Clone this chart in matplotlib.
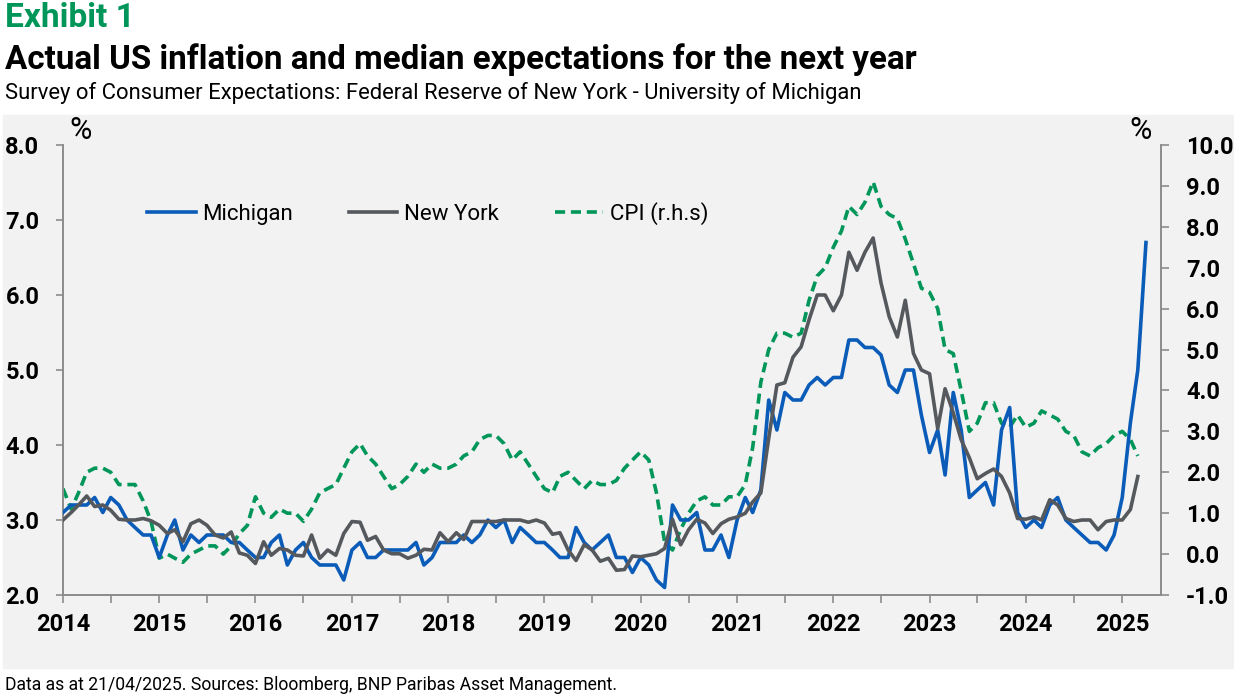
import numpy as np
import pandas as pd
import matplotlib
matplotlib.use("Agg")
import matplotlib.pyplot as plt
import matplotlib.dates as mdates
from matplotlib.patches import Rectangle
from matplotlib.lines import Line2D

# monthly data, Jan 2014 onwards
michigan = [
    3.1, 3.2, 3.2, 3.2, 3.3, 3.1, 3.3, 3.2, 3.0, 2.9, 2.8, 2.8,   # 2014
    2.5, 2.8, 3.0, 2.6, 2.8, 2.7, 2.8, 2.8, 2.8, 2.7, 2.7, 2.6,   # 2015
    2.5, 2.5, 2.7, 2.8, 2.4, 2.6, 2.7, 2.5, 2.4, 2.4, 2.4, 2.2,   # 2016
    2.6, 2.7, 2.5, 2.5, 2.6, 2.6, 2.6, 2.6, 2.7, 2.4, 2.5, 2.7,   # 2017
    2.7, 2.7, 2.8, 2.7, 2.8, 3.0, 2.9, 3.0, 2.7, 2.9, 2.8, 2.7,   # 2018
    2.7, 2.6, 2.5, 2.5, 2.9, 2.7, 2.6, 2.7, 2.8, 2.5, 2.5, 2.3,   # 2019
    2.5, 2.4, 2.2, 2.1, 3.2, 3.0, 3.0, 3.1, 2.6, 2.6, 2.8, 2.5,   # 2020
    3.0, 3.3, 3.1, 3.4, 4.6, 4.2, 4.7, 4.6, 4.6, 4.8, 4.9, 4.8,   # 2021
    4.9, 4.9, 5.4, 5.4, 5.3, 5.3, 5.2, 4.8, 4.7, 5.0, 5.0, 4.4,   # 2022
    3.9, 4.2, 3.6, 4.7, 4.2, 3.3, 3.4, 3.5, 3.2, 4.2, 4.5, 3.1,   # 2023
    2.9, 3.0, 2.9, 3.2, 3.3, 3.0, 2.9, 2.8, 2.7, 2.7, 2.6, 2.8,   # 2024
    3.3, 4.3, 5.0, 6.7,                                           # 2025
]

new_york = [
    3.0, 3.1, 3.2, 3.32, 3.18, 3.2, 3.13, 3.01, 3.0, 3.0, 3.02, 2.99,
    2.93, 2.82, 2.87, 2.71, 2.95, 3.0, 2.93, 2.8, 2.76, 2.84, 2.56, 2.53,
    2.42, 2.71, 2.53, 2.62, 2.6, 2.53, 2.52, 2.8, 2.49, 2.6, 2.53, 2.82,
    2.98, 2.97, 2.73, 2.78, 2.6, 2.55, 2.55, 2.49, 2.53, 2.61, 2.6, 2.83,
    2.71, 2.83, 2.74, 2.98, 2.98, 2.98, 2.98, 3.0, 3.0, 3.0, 2.97, 3.0,
    2.96, 2.81, 2.83, 2.6, 2.46, 2.67, 2.6, 2.45, 2.49, 2.33, 2.34, 2.52,
    2.51, 2.53, 2.55, 2.62, 3.01, 2.67, 2.87, 3.01, 2.96, 2.82, 2.95, 3.01,
    3.04, 3.09, 3.24, 3.36, 4.09, 4.8, 4.83, 5.17, 5.31, 5.67, 6.0, 6.0,
    5.79, 6.0, 6.57, 6.33, 6.57, 6.76, 6.16, 5.71, 5.44, 5.93, 5.22, 5.0,
    4.95, 4.22, 4.75, 4.43, 4.07, 3.83, 3.55, 3.62, 3.68, 3.58, 3.36, 3.02,
    3.01, 3.04, 3.0, 3.27, 3.2, 3.02, 2.98, 3.0, 3.0, 2.87, 2.98, 3.0,
    3.0, 3.14, 3.58,
]

cpi = [
    1.6, 1.1, 1.5, 2.0, 2.1, 2.1, 2.0, 1.7, 1.7, 1.7, 1.3, 0.8,
    -0.1, 0.0, -0.1, -0.2, 0.0, 0.1, 0.2, 0.2, 0.0, 0.2, 0.5, 0.7,
    1.4, 1.0, 0.9, 1.1, 1.0, 1.0, 0.8, 1.1, 1.5, 1.6, 1.7, 2.1,
    2.5, 2.7, 2.4, 2.2, 1.9, 1.6, 1.7, 1.9, 2.2, 2.0, 2.2, 2.1,
    2.1, 2.2, 2.4, 2.5, 2.8, 2.9, 2.9, 2.7, 2.3, 2.5, 2.2, 1.9,
    1.6, 1.5, 1.9, 2.0, 1.8, 1.6, 1.8, 1.7, 1.7, 1.8, 2.1, 2.3,
    2.5, 2.3, 1.5, 0.3, 0.1, 0.6, 1.0, 1.3, 1.4, 1.2, 1.2, 1.4,
    1.4, 1.7, 2.6, 4.2, 5.0, 5.4, 5.4, 5.3, 5.4, 6.2, 6.8, 7.0,
    7.5, 7.9, 8.5, 8.3, 8.6, 9.1, 8.5, 8.3, 8.2, 7.7, 7.1, 6.5,
    6.4, 6.0, 5.0, 4.9, 4.0, 3.0, 3.2, 3.7, 3.7, 3.2, 3.1, 3.4,
    3.1, 3.2, 3.5, 3.4, 3.3, 3.0, 2.9, 2.5, 2.4, 2.6, 2.7, 2.9,
    3.0, 2.8, 2.4,
]

start = "2014-01-01"
left_ticks = [2, 3, 4, 5, 6, 7, 8]
right_ticks = [-1, 0, 1, 2, 3, 4, 5, 6, 7, 8, 9, 10]

BLUE = "#0a5cb8"
GREY = "#55585c"
GREEN = "#00965a"
PANEL = "#f2f2f2"
AXIS = "#8c8c8c"

plt.rcParams["font.family"] = ["Roboto", "DejaVu Sans"]

fig = plt.figure(figsize=(12.34, 6.97), dpi=100)
fig.patches.append(Rectangle((3 / 1234, 1 - 668 / 697), 1, (668 - 115) / 697,
                             transform=fig.transFigure, color=PANEL, zorder=-10))

ax = fig.add_axes([63 / 1234, 1 - 595 / 697, (1161 - 63) / 1234, 450 / 697])
ax.patch.set_alpha(0)
ax2 = ax.twinx()

d_mi = pd.date_range(start, periods=len(michigan), freq="MS")
d_ny = pd.date_range(start, periods=len(new_york), freq="MS")
d_cpi = pd.date_range(start, periods=len(cpi), freq="MS")

l_cpi, = ax2.plot(d_cpi, cpi, color=GREEN, lw=2.6, dashes=(2.8, 1.6))
l_mi, = ax.plot(d_mi, michigan, color=BLUE, lw=2.6, zorder=3)
l_ny, = ax.plot(d_ny, new_york, color=GREY, lw=2.6, zorder=4)
ax.set_zorder(ax2.get_zorder() + 1)

ax.set_xlim(pd.Timestamp("2014-01-01"), pd.Timestamp("2025-05-28"))
ax.set_ylim(2, 8)
ax2.set_ylim(-1, 10)
ax.set_yticks(left_ticks)
ax2.set_yticks(right_ticks)
ax.yaxis.set_major_formatter(matplotlib.ticker.FormatStrFormatter("%.1f"))
ax2.yaxis.set_major_formatter(matplotlib.ticker.FormatStrFormatter("%.1f"))

ax.xaxis.set_major_locator(mdates.YearLocator())
ax.xaxis.set_minor_locator(mdates.MonthLocator(bymonth=7))
ax.xaxis.set_major_formatter(mdates.DateFormatter("%Y"))

for a in (ax, ax2):
    for s in a.spines.values():
        s.set_color(AXIS)
        s.set_linewidth(1.2)
    a.spines["top"].set_visible(False)

ax.tick_params(axis="y", length=5, width=1.2, color=AXIS, pad=12,
               labelsize=17)
ax2.tick_params(axis="y", length=6, width=1.2, color=AXIS, pad=12,
                labelsize=17)
ax.tick_params(axis="x", which="both", length=6, width=1.2, color=AXIS,
               pad=7, labelsize=17)
for lab in ax.get_xticklabels() + ax.get_yticklabels() + ax2.get_yticklabels():
    lab.set_fontweight("bold")

ax.text(0.006, 1.0, "%", transform=ax.transAxes, fontsize=22, va="bottom")
ax.text(0.992, 1.0, "%", transform=ax.transAxes, fontsize=22, va="bottom",
        ha="right")

cpi_handle = Line2D([], [], color=GREEN, lw=2.6, dashes=(2.8, 1.6))
ax.legend([l_mi, l_ny, cpi_handle], ["Michigan", "New York", "CPI (r.h.s)"],
          ncol=3, frameon=False, loc="upper left",
          bbox_to_anchor=(0.058, 0.918), fontsize=16, handlelength=2.2,
          handletextpad=0.3, columnspacing=2.5)

head = fig.text(5 / 1234, 1 - 18 / 697, "Exhibit 1", color=GREEN, fontsize=22,
                fontweight="bold", va="center")
title = fig.text(5 / 1234, 1 - 60 / 697,
                 "Actual US inflation and median expectations for the next year",
                 fontsize=24, fontweight="bold", va="center")
sub = fig.text(5 / 1234, 1 - 93 / 697,
               "Survey of Consumer Expectations: Federal Reserve of New York - University of Michigan",
               fontsize=15, va="center")
foot = fig.text(5 / 1234, 1 - 685 / 697,
                "Data as at 21/04/2025. Sources: Bloomberg, BNP Paribas Asset Management.",
                fontsize=13, va="center")

# size the header/footer texts to the widths they take in the original
renderer = fig.canvas.get_renderer()
for t, width in [(head, 130), (title, 915), (sub, 855), (foot, 615)]:
    w = t.get_window_extent(renderer).width
    t.set_fontsize(t.get_fontsize() * width / w)

fig.savefig("out.png", dpi=100)
